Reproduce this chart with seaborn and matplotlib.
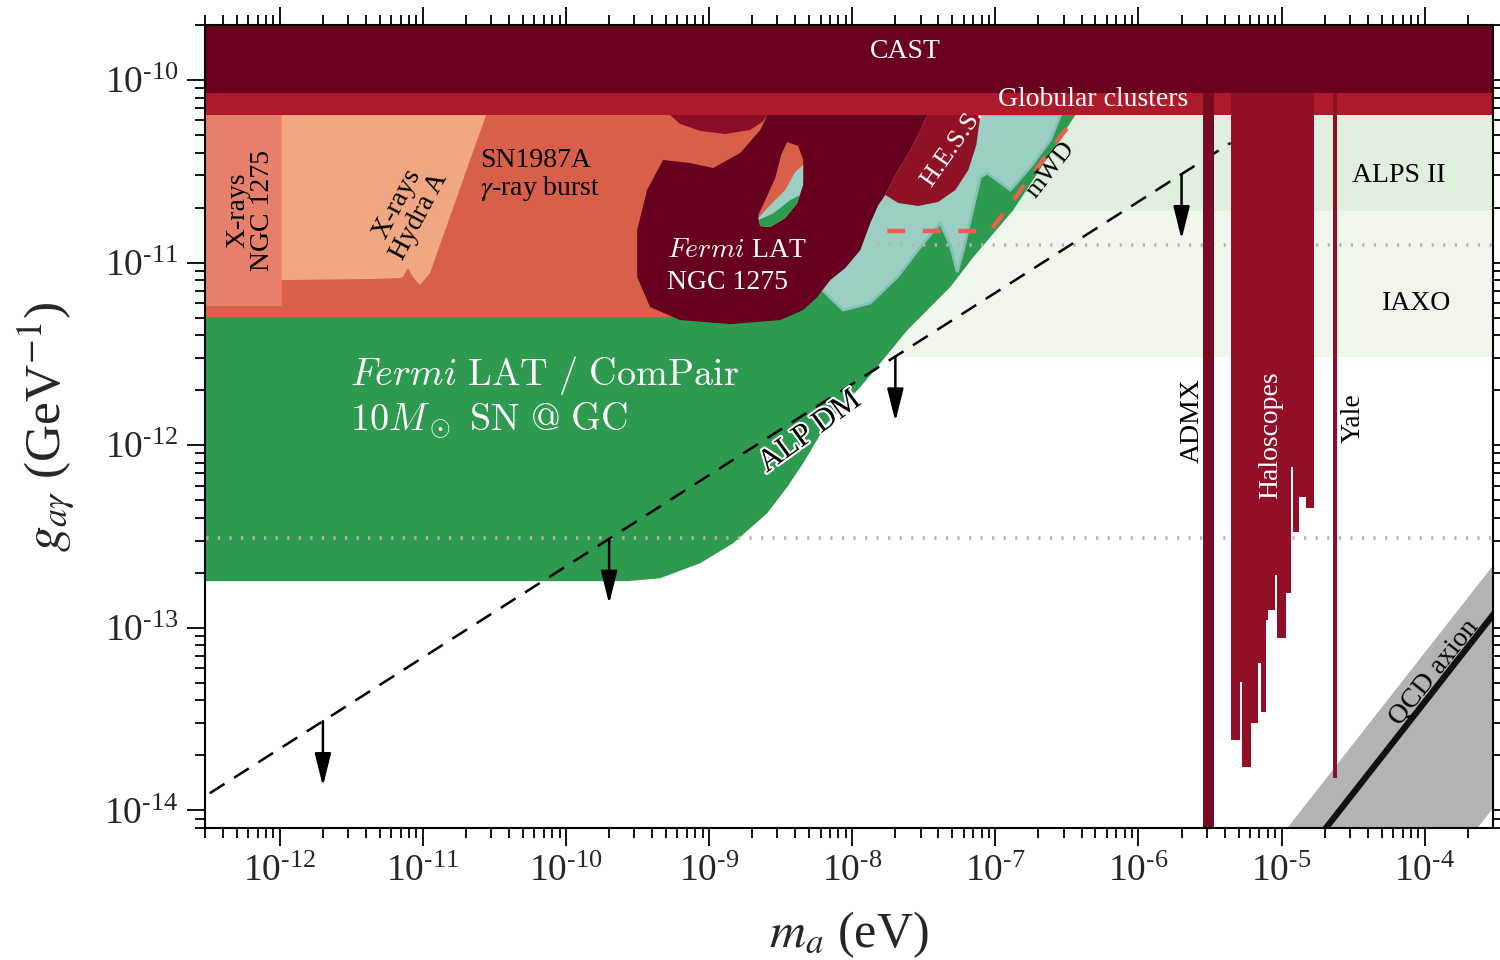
import numpy as np
import pandas as pd
import matplotlib
matplotlib.use("Agg")
import matplotlib.pyplot as plt
import matplotlib.patheffects as pe
from matplotlib.ticker import FixedLocator, FuncFormatter, NullFormatter
import seaborn as sns

# ------------------------------------------------------------------
# Limits on the axion-photon coupling.
# All shapes are given as log10(m_a / eV) and log10(g_agamma / GeV^-1).
# ------------------------------------------------------------------
m_limits = (3e-13, 3e-4)
g_limits = (8e-15, 2e-10)
m_decades = list(range(-12, -3))
g_decades = list(range(-14, -9))

# horizontal bands (log10 g)
cast_logg = (-10.071, -9.0)
gc_logg = (-10.192, -10.071)
alps2_logg = (-10.718, -10.192)
iaxo_logg = (-11.518, -10.718)

# SN1987A gamma-ray burst
sn1987a_logm = [-13.0, -8.573, -9.063, -13.0]
sn1987a_logg = [-10.192, -10.192, -11.299, -11.299]

# X-rays from NGC 1275
xngc_logm = [-13.0, -11.986, -11.986, -13.0]
xngc_logg = [-10.192, -10.192, -11.238, -11.238]

# X-rays from Hydra A
hydra_logm = [-11.986, -10.559, -10.951, -11.021, -11.070, -11.105, -11.140,
              -11.161, -11.350, -11.986]
hydra_logg = [-10.192, -10.192, -11.058, -11.123, -11.079, -11.030, -11.079,
              -11.085, -11.090, -11.096]

# small lobe hanging below the globular-cluster bound
lobe_logm = [-9.273, -9.203, -9.063, -8.888, -8.713, -8.629, -8.594]
lobe_logg = [-10.192, -10.241, -10.279, -10.296, -10.274, -10.230, -10.192]

# Fermi LAT, NGC 1275
fermi_ngc_logm = [-8.594, -7.476, -7.524, -7.594, -7.699, -7.769, -7.818, -7.874,
                  -7.944, -8.049, -8.154, -8.245, -8.343, -8.503, -8.853, -9.203,
                  -9.413, -9.503, -9.503, -9.434, -9.322, -9.133, -8.972, -8.783,
                  -8.643]
fermi_ngc_logg = [-10.192, -10.192, -10.274, -10.384, -10.521, -10.630, -10.685,
                  -10.784, -10.932, -11.030, -11.096, -11.189, -11.260, -11.315,
                  -11.337, -11.315, -11.244, -11.079, -10.822, -10.603, -10.438,
                  -10.455, -10.482, -10.400, -10.274]

# island of allowed parameter space inside the NGC 1275 bound
island_logm = [-8.455, -8.378, -8.343, -8.343, -8.385, -8.469, -8.573, -8.643,
               -8.657, -8.608, -8.538, -8.497]
island_logg = [-10.340, -10.362, -10.438, -10.548, -10.674, -10.756, -10.805,
               -10.800, -10.740, -10.658, -10.537, -10.411]
island_teal_logm = [-8.343, -8.343, -8.385, -8.469, -8.573, -8.643, -8.657,
                    -8.573, -8.469, -8.399]
island_teal_logg = [-10.466, -10.575, -10.674, -10.756, -10.805, -10.800, -10.756,
                    -10.685, -10.603, -10.504]
island_green_logm = [-8.364, -8.385, -8.469, -8.573, -8.643, -8.657, -8.559,
                     -8.503, -8.434]
island_green_logg = [-10.630, -10.674, -10.756, -10.805, -10.800, -10.767, -10.734,
                     -10.701, -10.658]

# H.E.S.S.
hess_logm = [-7.476, -7.105, -7.133, -7.189, -7.280, -7.399, -7.538, -7.678,
             -7.769, -7.699, -7.594, -7.524]
hess_logg = [-10.192, -10.192, -10.356, -10.493, -10.603, -10.668, -10.690,
             -10.674, -10.630, -10.521, -10.384, -10.274]

# further gamma-ray bounds (teal)
teal_logm = [-7.874, -6.545, -6.615, -6.755, -6.895, -7.056, -7.105, -7.224,
             -7.266, -7.315, -7.385, -7.503, -7.685, -7.874, -8.063, -8.210, -8.364]
teal_logg = [-10.192, -10.192, -10.329, -10.477, -10.603, -10.510, -10.532,
             -10.932, -11.052, -10.904, -10.784, -10.893, -11.079, -11.222,
             -11.260, -11.151, -10.932]

# Fermi LAT / ComPair sensitivity, 10 M_sun SN at the Galactic centre
sn_gc_logm = [-13.0, -6.441, -6.874, -7.154, -7.315, -7.545, -7.615, -7.804,
              -7.944, -8.175, -8.343, -8.455, -8.594, -8.832, -9.063, -9.343,
              -9.573, -13.0]
sn_gc_logg = [-10.192, -10.192, -10.712, -10.970, -11.134, -11.315, -11.370,
              -11.551, -11.682, -11.879, -12.099, -12.230, -12.373, -12.537,
              -12.647, -12.729, -12.745, -12.745]

# magnetic white dwarf bound
mwd_logm = [-7.755, -7.035, -6.45]
mwd_logg = [-10.827, -10.827, -10.21]

# dotted projections: start mass and coupling
dotted_logm_start = [-7.83, -13.0]
dotted_logg = [-10.904, -12.510]

# cavity haloscopes
admx_logm = (-5.548, -5.469)
halo_edges_logm = [-5.357, -5.292, -5.275, -5.217, -5.166, -5.147, -5.112, -5.096,
                   -5.049, -5.035, -4.972, -4.937, -4.918, -4.879, -4.832, -4.774]
halo_bottom_logg = [-13.616, -13.297, -13.763, -13.523, -13.195, -13.461, -12.959,
                    -12.904, -12.712, -13.058, -12.811, -12.119, -12.475, -12.283,
                    -12.345]
yale_logm = (-4.643, -4.615)
yale_bottom_logg = -13.825

# ALP dark matter line and its down arrows
alp_dm_m = [3.24e-13, 4.40e-6]
alp_dm_g = [1.24e-14, 4.52e-11]
arrow_m = [2e-12, 2e-10, 2e-8, 2e-6]
arrow_drop = 2.27

# QCD axion band and model line
qcd_m = [1e-6, 1e-3]
qcd_g_line = [3.92e-16, 3.92e-13]
qcd_g_high = [7.41e-16, 7.41e-13]
qcd_g_low = [3.47e-17, 3.47e-14]

# ------------------------------------------------------------------
sns.set_theme(style="ticks")
plt.rcParams.update({
    "font.family": ["Liberation Serif", "DejaVu Serif"],
    "mathtext.fontset": "stix",
    "axes.linewidth": 1.5,
})

fig = plt.figure(figsize=(15, 9.6), dpi=100)
ax = fig.add_axes([205 / 1500, 1 - 828 / 960, 1288 / 1500, 803 / 960])
ax.set_xscale("log")
ax.set_yscale("log")
ax.set_xlim(*m_limits)
ax.set_ylim(*g_limits)


def region(lm, lg, color, z, **kw):
    ax.fill(10 ** np.asarray(lm), 10 ** np.asarray(lg), color=color, lw=0,
            zorder=z, **kw)


def band(lg, color, z):
    ax.axhspan(10 ** lg[0], 10 ** lg[1], color=color, lw=0, zorder=z)


band(alps2_logg, "#dff0dc", 1)
band(iaxo_logg, "#eff7ed", 1)

region(sn_gc_logm, sn_gc_logg, "#2e9a4f", 2)
for lm0, lg in zip(dotted_logm_start, dotted_logg):
    ax.plot([10 ** lm0, m_limits[1]], [10 ** lg, 10 ** lg], color="#b4b4b4",
            lw=2.6, ls=(0, (0.6, 2.6)), zorder=3.6)

region(teal_logm, teal_logg, "#9ccfc3", 3)
ax.fill(10 ** np.asarray(teal_logm), 10 ** np.asarray(teal_logg), fc="none",
        ec="#84c2b6", lw=2, zorder=3.05)
ax.plot(10 ** np.asarray(mwd_logm), 10 ** np.asarray(mwd_logg), color="#e8614e",
        lw=3.2, ls=(0, (4, 4)), zorder=3.3)

region(sn1987a_logm, sn1987a_logg, "#d8604b", 4)
region(xngc_logm, xngc_logg, "#e6806a", 4.1)
region(hydra_logm, hydra_logg, "#f1a882", 4.2)
region(lobe_logm, lobe_logg, "#8a0e26", 4.3)
region(fermi_ngc_logm, fermi_ngc_logg, "#66001e", 4.4)
region(island_logm, island_logg, "#d8604b", 4.5)
region(island_teal_logm, island_teal_logg, "#9ccfc3", 4.6)
region(island_green_logm, island_green_logg, "#2e9a4f", 4.7)
region(hess_logm, hess_logg, "#8e1126", 4.8)

band(gc_logg, "#ae1a2c", 5)

# QCD axion band and line
ax.fill_between(qcd_m, qcd_g_low, qcd_g_high, color="#b3b3b3", lw=0, zorder=5)
qcd_df = pd.DataFrame({"m": qcd_m, "g": qcd_g_line})
sns.lineplot(data=qcd_df, x="m", y="g", ax=ax, color="#111111", lw=4.5,
             zorder=5.1, legend=False)

# ALP dark matter line
alp_df = pd.DataFrame({"m": alp_dm_m, "g": alp_dm_g})
sns.lineplot(data=alp_df, x="m", y="g", ax=ax, color="black", lw=1.8,
             linestyle=(0, (7, 4.5)), zorder=5.5, legend=False)
alp_logm = np.log10(alp_dm_m)
alp_logg = np.log10(alp_dm_g)
for m in arrow_m:
    g0 = 10 ** np.interp(np.log10(m), alp_logm, alp_logg)
    ax.annotate("", xy=(m, g0 / arrow_drop), xytext=(m, g0),
                arrowprops=dict(arrowstyle="-|>,head_length=1.0,head_width=0.25",
                                color="black", lw=1.8, shrinkA=0, shrinkB=0,
                                mutation_scale=20),
                zorder=5.6)

# haloscopes
top = 1e-9
ax.fill_between([10 ** admx_logm[0], 10 ** admx_logm[1]], g_limits[0] / 2, top,
                color="#7a0a22", lw=0, zorder=6)
halo_bottom = list(halo_bottom_logg) + [halo_bottom_logg[-1]]
ax.fill_between(10 ** np.asarray(halo_edges_logm), 10 ** np.asarray(halo_bottom),
                top, step="post", color="#920f27", lw=0, zorder=6)
ax.fill_between([10 ** yale_logm[0], 10 ** yale_logm[1]], 10 ** yale_bottom_logg,
                top, color="#8e0f28", lw=0, zorder=6)

band(cast_logg, "#6b001e", 7)

# ------------------------------------------------------------------
# labels
tk = dict(zorder=10)
ax.text(2.35e-8, 1.44e-10, "CAST", color="white", fontsize=20, ha="center",
        va="center", **tk)
ax.text(4.84e-7, 7.77e-11, "Globular clusters", color="white", fontsize=20,
        ha="center", va="center", **tk)
ax.text(6.2e-13, 1.94e-11, "X-rays\nNGC 1275", color="black", fontsize=20,
        ha="center", va="center", rotation=90, linespacing=1.0, **tk)
ax.text(7.85e-12, 1.94e-11, "X-rays\nHydra A", color="black", fontsize=20,
        ha="center", va="center", rotation=62, linespacing=1.0,
        rotation_mode="anchor", **tk)
ax.text(2.5e-11, 2.98e-11, "SN1987A\n$\\gamma$-ray burst", color="black",
        fontsize=20, ha="left", va="center", linespacing=1.05, **tk)
ax.text(5.08e-10, 1.17e-11, "$Fermi$ LAT", color="white", fontsize=20,
        ha="left", va="center", math_fontfamily="cm", **tk)
ax.text(5.08e-10, 7.73e-12, "NGC 1275", color="white", fontsize=20,
        ha="left", va="center", **tk)
ax.text(5.0e-8, 4.3e-11, "H.E.S.S.", color="white", fontsize=19, ha="center",
        va="center", rotation=55, rotation_mode="anchor", **tk)
ax.text(2.43e-7, 3.21e-11, "mWD", color="black", fontsize=19, ha="center",
        va="center", rotation=52, rotation_mode="anchor", **tk)
ax.text(5.08e-9, 1.18e-12, "ALP DM", color="black", fontsize=23, ha="center",
        va="center", rotation=36, rotation_mode="anchor",
        path_effects=[pe.withStroke(linewidth=3, foreground="white")], **tk)
ax.text(6.58e-5, 2.98e-11, "ALPS II", color="black", fontsize=20, ha="center",
        va="center", **tk)
ax.text(8.8e-5, 6.0e-12, "IAXO", color="black", fontsize=20, ha="center",
        va="center", **tk)
ax.text(2.39e-6, 1.37e-12, "ADMX", color="black", fontsize=20, ha="center",
        va="center", rotation=90, **tk)
ax.text(8.4e-6, 1.13e-12, "Haloscopes", color="white", fontsize=20, ha="center",
        va="center", rotation=90, **tk)
ax.text(3.14e-5, 1.41e-12, "Yale", color="black", fontsize=20, ha="center",
        va="center", rotation=90, **tk)
ax.text(1.17e-4, 5.7e-14, "QCD axion", color="black", fontsize=20, ha="center",
        va="center", rotation=51.5, rotation_mode="anchor", **tk)
ax.text(3.09e-12, 2.42e-12, r"$Fermi\ \mathrm{LAT\ /\ ComPair}$", color="white",
        fontsize=27.5, ha="left", va="center", math_fontfamily="cm", **tk)
ax.text(3.09e-12, 1.37e-12, r"$10M_\odot\ \mathrm{SN\ @\ GC}$", color="white",
        fontsize=27.5, ha="left", va="center", math_fontfamily="cm", **tk)

# ------------------------------------------------------------------
# axes styling
for s in ax.spines.values():
    s.set_visible(True)
    s.set_zorder(20)
    s.set_linewidth(1.5)
    s.set_color("black")


def log_ticks(decades, lims):
    major = [10.0 ** k for k in decades]
    minor = [j * 10.0 ** k for k in range(decades[0] - 1, decades[-1] + 1)
             for j in range(2, 10)]
    minor = [v for v in minor if lims[0] <= v <= lims[1]]
    return major, minor


def decade_label(v, pos):
    # power of ten with a short hyphen in the exponent
    k = int(round(np.log10(v)))
    sign = r"\text{-}" if k < 0 else ""
    return r"$\mathdefault{10^{%s%d}}$" % (sign, abs(k))


for axis, dec, lims in ((ax.xaxis, m_decades, m_limits),
                        (ax.yaxis, g_decades, g_limits)):
    major, minor = log_ticks(dec, lims)
    axis.set_major_locator(FixedLocator(major))
    axis.set_minor_locator(FixedLocator(minor))
    axis.set_major_formatter(FuncFormatter(decade_label))
    axis.set_minor_formatter(NullFormatter())

ax.tick_params(which="both", direction="out", top=True, right=True,
               labeltop=False, labelright=False, color="black", width=1.3)
ax.tick_params(which="major", length=13, labelsize=27, pad=6)
ax.tick_params(which="minor", length=7)

ax.set_xlabel(r"$m_a$ (eV)", fontsize=36)
ax.set_ylabel(r"$g_{a\gamma}$ (GeV$^{-1}$)", fontsize=37)
ax.xaxis.set_label_coords(0.5, -0.133)
ax.xaxis.label.set_va("center")
ax.yaxis.set_label_coords(-0.124, 0.5)
ax.yaxis.label.set_va("center")

fig.savefig("out.png", dpi=100, facecolor="white")
